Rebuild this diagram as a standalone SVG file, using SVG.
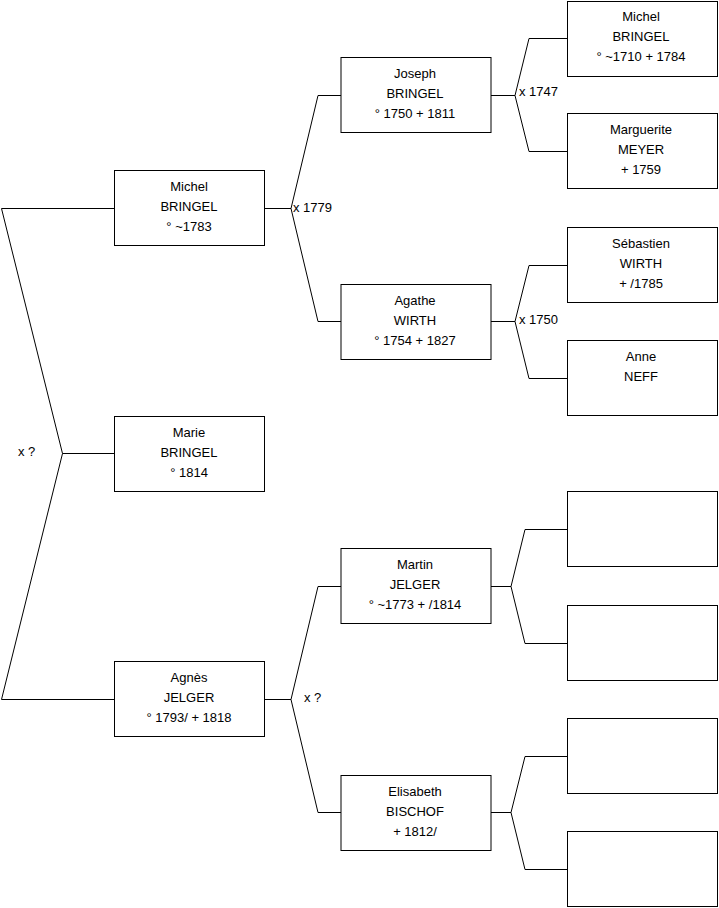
<svg xmlns="http://www.w3.org/2000/svg" width="719" height="908" viewBox="0 0 719 908">
<style>
.box{fill:#fff;stroke:#000;stroke-width:1}
.c{fill:none;stroke:#000;stroke-width:1}
text{font-family:"Liberation Sans",Arial,sans-serif;font-size:13px;fill:#000}
.m{text-anchor:middle}
</style>
<rect width="719" height="908" fill="#fff"/>
<g id="connectors">
<polyline class="c" points="114.5,208.5 1.5,208.5 62.5,453.5 1.5,699.5 114.5,699.5"/>
<line class="c" x1="62.5" y1="453.5" x2="114.5" y2="453.5"/>
<text x="18" y="456">x ?</text>
<line class="c" x1="264.5" y1="208.5" x2="291" y2="208.5"/>
<polyline class="c" points="341,95.5 318,95.5 291,208.5 318,321.5 341,321.5"/>
<text x="293" y="212">x 1779</text>
<line class="c" x1="264.5" y1="699.5" x2="291" y2="699.5"/>
<polyline class="c" points="341,586.5 318,586.5 291,699.5 318,812.5 341,812.5"/>
<text x="304" y="702">x ?</text>
<line class="c" x1="491" y1="95.5" x2="515" y2="95.5"/>
<polyline class="c" points="567.5,38.5 529,38.5 515,95.5 529,151.5 567.5,151.5"/>
<text x="519" y="96">x 1747</text>
<line class="c" x1="491" y1="321.5" x2="515" y2="321.5"/>
<polyline class="c" points="567.5,265.5 529,265.5 515,321.5 529,378.5 567.5,378.5"/>
<text x="519" y="324">x 1750</text>
<line class="c" x1="491" y1="586.5" x2="511" y2="586.5"/>
<polyline class="c" points="567.5,529.5 525,529.5 511,586.5 525,643.5 567.5,643.5"/>
<line class="c" x1="491" y1="812.5" x2="511" y2="812.5"/>
<polyline class="c" points="567.5,756.5 525,756.5 511,812.5 525,869.5 567.5,869.5"/>
</g>
<g id="michel-1783"><rect class="box" x="114.5" y="170.5" width="150" height="75"/>
<text class="m" x="189" y="190.5">Michel</text><text class="m" x="189" y="210.5">BRINGEL</text><text class="m" x="189" y="230.5">° ~1783</text></g>
<g id="marie"><rect class="box" x="114.5" y="416.5" width="150" height="75"/>
<text class="m" x="189" y="437">Marie</text><text class="m" x="189" y="457">BRINGEL</text><text class="m" x="189" y="477">° 1814</text></g>
<g id="agnes"><rect class="box" x="114.5" y="661.5" width="150" height="75"/>
<text class="m" x="189" y="682">Agnès</text><text class="m" x="189" y="702">JELGER</text><text class="m" x="189" y="722">° 1793/ + 1818</text></g>
<g id="joseph"><rect class="box" x="341" y="57.5" width="150" height="75"/>
<text class="m" x="415" y="78">Joseph</text><text class="m" x="415" y="98">BRINGEL</text><text class="m" x="415" y="118">° 1750 + 1811</text></g>
<g id="agathe"><rect class="box" x="341" y="284.5" width="150" height="75"/>
<text class="m" x="415" y="305">Agathe</text><text class="m" x="415" y="325">WIRTH</text><text class="m" x="415" y="345">° 1754 + 1827</text></g>
<g id="martin"><rect class="box" x="341" y="548.5" width="150" height="75"/>
<text class="m" x="415" y="569">Martin</text><text class="m" x="415" y="589">JELGER</text><text class="m" x="415" y="609">° ~1773 + /1814</text></g>
<g id="elisabeth"><rect class="box" x="341" y="775.5" width="150" height="75"/>
<text class="m" x="415" y="796">Elisabeth</text><text class="m" x="415" y="816">BISCHOF</text><text class="m" x="415" y="836">+ 1812/</text></g>
<g id="michel-1710"><rect class="box" x="567.5" y="1.5" width="150" height="75"/>
<text class="m" x="641" y="21">Michel</text><text class="m" x="641" y="41">BRINGEL</text><text class="m" x="641" y="61">° ~1710 + 1784</text></g>
<g id="marguerite"><rect class="box" x="567.5" y="113.5" width="150" height="75"/>
<text class="m" x="641" y="134">Marguerite</text><text class="m" x="641" y="154">MEYER</text><text class="m" x="641" y="174">+ 1759</text></g>
<g id="sebastien"><rect class="box" x="567.5" y="227.5" width="150" height="75"/>
<text class="m" x="641" y="248">Sébastien</text><text class="m" x="641" y="268">WIRTH</text><text class="m" x="641" y="288">+ /1785</text></g>
<g id="anne"><rect class="box" x="567.5" y="340.5" width="150" height="75"/>
<text class="m" x="641" y="361">Anne</text><text class="m" x="641" y="381">NEFF</text></g>
<g id="empty-1"><rect class="box" x="567.5" y="491.5" width="150" height="75"/></g>
<g id="empty-2"><rect class="box" x="567.5" y="605.5" width="150" height="75"/></g>
<g id="empty-3"><rect class="box" x="567.5" y="718.5" width="150" height="75"/></g>
<g id="empty-4"><rect class="box" x="567.5" y="831.5" width="150" height="75"/></g>
</svg>
